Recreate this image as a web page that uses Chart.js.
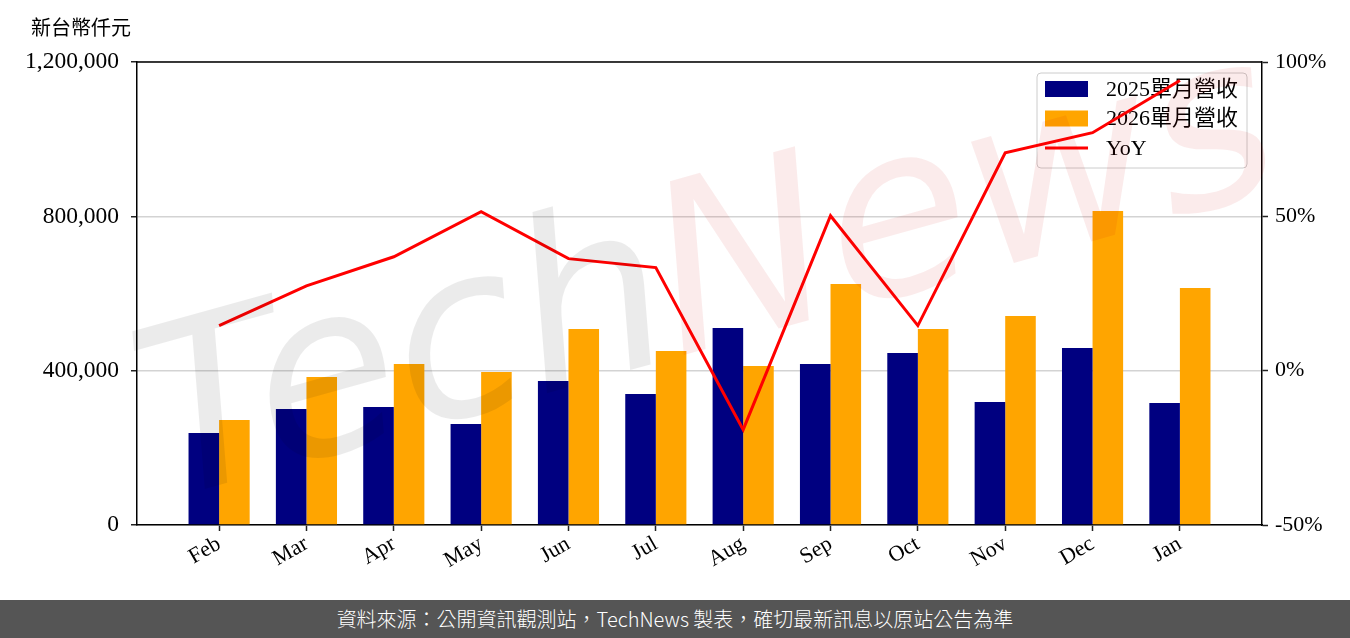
<!DOCTYPE html>
<html>
<head>
<meta charset="utf-8">
<script src="https://cdn.jsdelivr.net/npm/chart.js@4"></script>
<style>
  body { margin: 0; background: #fff; }
  #wrap { width: 1350px; height: 600px; position: relative; }
  #footer {
    width: 1350px; height: 38px; background: #555555; color: #fff;
    font: 300 20px "Noto Sans CJK TC", "Noto Sans", sans-serif;
    text-align: center; line-height: 38px;
  }
</style>
</head>
<body>
<div id="wrap"><canvas id="myChart" width="1350" height="600"></canvas></div>
<div id="footer">資料來源：公開資訊觀測站，TechNews 製表，確切最新訊息以原站公告為準</div>
<script>
let months = ['Feb', 'Mar', 'Apr', 'May', 'Jun', 'Jul', 'Aug', 'Sep', 'Oct', 'Nov', 'Dec', 'Jan'];
let rev2025 = [238500, 300700, 305900, 262000, 373000, 339600, 510600, 417000, 445800, 318800, 458800, 316000];
let rev2026 = [272000, 383600, 417000, 396600, 508000, 451000, 412000, 624700, 508000, 541700, 813900, 614000];
let yoy = [14.6, 27.5, 36.9, 51.5, 36.3, 33.4, -19.1, 50.2, 14.6, 70.6, 77.1, 94.0];
let leftTicks = [0, 400000, 800000, 1200000];
let rightTicks = [-50, 0, 50, 100];
let seriesNames = ['2025單月營收', '2026單月營收', 'YoY'];
let colorHex = ['#000080', '#FFA500', '#FF0000'];

const serif = '"Liberation Serif", "Noto Sans CJK TC", serif';
const pts = arr => arr.map((v, i) => ({ x: i, y: v }));

// legend box + title, drawn under the datasets
const decor = {
  id: 'decor',
  beforeDatasetsDraw(chart) {
    const c = chart.ctx, a = chart.chartArea;
    c.save();
    c.fillStyle = '#000';
    c.font = '20px "Noto Sans CJK TC", sans-serif';
    c.textBaseline = 'middle';
    c.fillText('新台幣仟元', 31, 27);

    const bx = a.right - 225, by = a.top + 11, bw = 210, bh = 95;
    c.beginPath();
    c.roundRect(bx, by, bw, bh, 4);
    c.fillStyle = 'rgba(255,255,255,0.8)';
    c.fill();
    c.strokeStyle = '#cccccc';
    c.lineWidth = 1;
    c.stroke();
    c.font = '22px ' + serif;
    seriesNames.forEach((name, i) => {
      const cy = by + 16 + i * 29.5;
      c.fillStyle = colorHex[i];
      if (i < 2) c.fillRect(bx + 8, cy - 8, 43, 16);
      else c.fillRect(bx + 8, cy - 1.5, 43, 3);
      c.fillStyle = '#000';
      c.fillText(name, bx + 69, cy + 1);
    });
    c.restore();
  },
  afterDatasetsDraw(chart) {
    const c = chart.ctx, a = chart.chartArea;
    c.save();
    c.strokeStyle = '#000';
    c.lineWidth = 1.5;
    c.beginPath();
    c.moveTo(a.left, a.top);
    c.lineTo(a.right, a.top);
    c.stroke();
    c.restore();
  },
  afterDraw(chart) {
    // faint TechNews watermark
    const c = chart.ctx;
    c.save();
    c.translate(165, 500);
    c.rotate(-15.6 * Math.PI / 180);
    c.font = 'italic 235px "DejaVu Sans", sans-serif';
    c.textBaseline = 'alphabetic';
    c.fillStyle = 'rgba(0,0,0,0.08)';
    c.fillText('Tech', 0, 0);
    const w = c.measureText('Tech').width;
    c.fillStyle = 'rgba(200,0,0,0.08)';
    c.fillText('News', w - 5, 0);
    c.restore();
  }
};

let ctx = document.getElementById('myChart').getContext('2d');
let myChart = new Chart(ctx, {
  data: {
    datasets: [{
      type: 'line',
      label: seriesNames[2],
      data: pts(yoy),
      yAxisID: 'y1',
      borderColor: colorHex[2],
      borderWidth: 3,
      pointRadius: 0,
      tension: 0,
      order: 0
    }, {
      type: 'bar',
      label: seriesNames[0],
      data: pts(rev2025),
      backgroundColor: colorHex[0],
      yAxisID: 'y',
      categoryPercentage: 0.7,
      barPercentage: 1.0,
      order: 1
    }, {
      type: 'bar',
      label: seriesNames[1],
      data: pts(rev2026),
      backgroundColor: colorHex[1],
      yAxisID: 'y',
      categoryPercentage: 0.7,
      barPercentage: 1.0,
      order: 1
    }]
  },
  options: {
    responsive: false,
    animation: false,
    devicePixelRatio: 1,
    layout: { padding: { top: 62, left: 0, right: 0, bottom: 0 } },
    plugins: { legend: { display: false }, tooltip: { enabled: false } },
    scales: {
      x: {
        type: 'linear',
        min: -0.94,
        max: 11.94,
        offset: false,
        afterBuildTicks: s => { s.ticks = months.map((m, i) => ({ value: i })); },
        afterFit: s => { s.height = 75; },
        ticks: {
          callback: v => months[v],
          font: { family: serif, size: 22 },
          color: '#000',
          minRotation: 30,
          maxRotation: 30,
          padding: 0,
          autoSkip: false
        },
        grid: { offset: false, drawOnChartArea: false, drawTicks: true, tickLength: 6, tickColor: '#222', tickWidth: 1.5 },
        border: { color: '#000', width: 1.5 }
      },
      y: {
        position: 'left',
        min: 0,
        max: 1200000,
        afterBuildTicks: s => { s.ticks = leftTicks.map(v => ({ value: v })); },
        afterFit: s => { s.width = 137; },
        ticks: {
          callback: v => v.toLocaleString('en-US'),
          font: { family: serif, size: 23.5 },
          color: '#000',
          padding: 12
        },
        grid: { color: '#d3d3d3', lineWidth: 1.5, tickLength: 6, tickColor: '#222', tickWidth: 1.5 },
        border: { color: '#000', width: 1.5 }
      },
      y1: {
        position: 'right',
        min: -50,
        max: 100,
        afterBuildTicks: s => { s.ticks = rightTicks.map(v => ({ value: v })); },
        afterFit: s => { s.width = 88; },
        ticks: {
          callback: v => v + '%',
          font: { family: serif, size: 22 },
          color: '#000',
          padding: 7
        },
        grid: { drawOnChartArea: false, tickLength: 6, tickColor: '#222', tickWidth: 1.5 },
        border: { color: '#000', width: 1.5 }
      }
    }
  },
  plugins: [decor]
});
</script>
</body>
</html>
